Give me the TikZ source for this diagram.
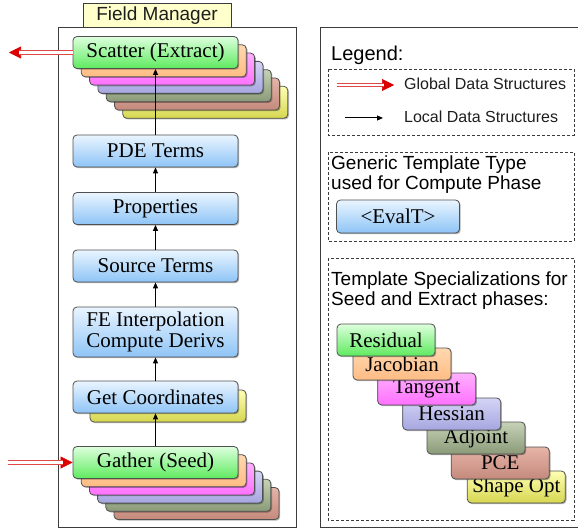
\documentclass[tikz,border=0pt]{standalone}
\usepackage{fontspec}
\setmainfont{Liberation Serif}
\setsansfont{Liberation Sans}
\usetikzlibrary{arrows.meta,shadows}
\definecolor{frameC}{HTML}{3C3C3C}
\definecolor{boxline}{HTML}{505050}
\definecolor{fmfill}{HTML}{FFFFCC}
\definecolor{gred}{HTML}{DD0000}
\definecolor{gredl}{HTML}{E04848}
\definecolor{txtC}{HTML}{1E1E1E}
\definecolor{grT}{HTML}{DDFFDD}\definecolor{grB}{HTML}{5EEA5E}
\definecolor{orT}{HTML}{FFD8B0}\definecolor{orB}{HTML}{FFBC84}
\definecolor{mgT}{HTML}{FFB0FF}\definecolor{mgB}{HTML}{FF70FF}
\definecolor{lvT}{HTML}{D4D4F6}\definecolor{lvB}{HTML}{A6A6E0}
\definecolor{olT}{HTML}{C6D2B6}\definecolor{olB}{HTML}{8A9A78}
\definecolor{rsT}{HTML}{E6B4A8}\definecolor{rsB}{HTML}{C48A7C}
\definecolor{ywT}{HTML}{FFFFB4}\definecolor{ywB}{HTML}{D6D650}
\definecolor{blT}{HTML}{EAF5FF}\definecolor{blB}{HTML}{8EC4F6}
\newcommand\bxfont{\fontsize{21bp}{21.5bp}\selectfont}
\newcommand\lgfont{\sffamily\fontsize{19bp}{20bp}\selectfont}
\begin{document}
\begin{tikzpicture}[x=1bp,y=-1bp,
  fbox/.style={draw=boxline, line width=0.8bp, rounded corners=4bp, inner sep=1bp,
    font=\bxfont, text=black,
    drop shadow={shadow xshift=1.2bp,shadow yshift=-1.2bp,opacity=0.3,fill=black}},
  wide/.style={fbox, minimum width=165bp, minimum height=32bp},
  spec/.style={fbox, minimum width=98bp, minimum height=32bp},
  shade/.style 2 args={top color=#1, bottom color=#2},
  frame/.style={draw=frameC, line width=1bp},
  dbox/.style={draw=frameC, line width=0.8bp, dash pattern=on 3bp off 2bp},
  larrow/.style={draw=black, line width=1bp, -{Triangle[length=6bp,width=5bp]}},
  gtip/.style={draw=gred, line width=0.6bp, -{Triangle[length=12bp,width=12bp]}},
  gline/.style={draw=gredl, line width=1.2bp, double=white, double distance=2.2bp, shorten >=10bp},
]
\useasboundingbox (0,0) rectangle (578,532);

% ---------- left frame ----------
\draw[frame] (58,28) rectangle (296,527);
\node[frame, fill=fmfill, minimum width=148bp, minimum height=24bp, inner sep=0,
  font=\sffamily\fontsize{19bp}{20bp}\selectfont, text=txtC] (fm) at (157,16) {Field Manager};

% ---------- scatter stack ----------
\foreach \i/\c in {6/yw,5/rs,4/ol,3/lv,2/mg,1/or}{
  \node[wide, shade={\c T}{\c B}] (sc\i) at ({155.5+8.3*\i},{52.5+8.3*\i}) {};
}
\node[wide, shade={grT}{grB}] (scatter) at (155.5,52.5) {Scatter (Extract)};

% ---------- blue boxes ----------
\node[wide, shade={blT}{blB}] (pde) at (155.5,151) {PDE Terms};
\node[wide, shade={blT}{blB}] (prop) at (155.5,208.5) {Properties};
\node[wide, shade={blT}{blB}] (src) at (155.5,266) {Source Terms};
\node[wide, shade={blT}{blB}, minimum height=50bp, align=center] (fe) at (155.5,332)
  {FE Interpolation\\Compute Derivs};
\node[wide, shade={ywT}{ywB}, minimum width=156bp] (gcback) at (168,406) {};
\node[wide, shade={blT}{blB}] (gc) at (155.5,397) {Get Coordinates};

% ---------- gather stack ----------
\foreach \i/\c in {5/rs,4/ol,3/lv,2/mg,1/or}{
  \node[wide, shade={\c T}{\c B}] (ga\i) at ({155.5+8.2*\i},{462.5+8.2*\i}) {};
}
\node[wide, shade={grT}{grB}] (gather) at (155.5,462.5) {Gather (Seed)};

% ---------- local arrows ----------
\draw[larrow] (gather.north) -- (gc.south);
\draw[larrow] (gc.north) -- (fe.south);
\draw[larrow] (fe.north) -- (src.south);
\draw[larrow] (src.north) -- (prop.south);
\draw[larrow] (prop.north) -- (pde.south);
\draw[larrow] (pde.north) -- (scatter.south);

% ---------- global arrows ----------
\coordinate (scout) at (9,52.5);
\coordinate (gin) at (8,462.5);
\draw[gtip] (scatter.west) -- (scout);
\draw[gline] (scatter.west) -- (scout);
\draw[gtip] (gin) -- (gather.west);
\draw[gline] (gin) -- (gather.west);

% ---------- right frame ----------
\draw[frame] (580,28) -- (320,28) -- (320,527) -- (580,527);
\node[anchor=west, inner sep=0, font=\sffamily\fontsize{20bp}{21bp}\selectfont, text=black]
  (legend) at (331,55) {Legend:};

\draw[dbox] (328,69) rectangle (574,135);
\coordinate (ga1) at (337,85);
\coordinate (ga2) at (394,85);
\draw[gtip] (ga1) -- (ga2);
\draw[gline] (ga1) -- (ga2);
\node[anchor=west, inner sep=0, font=\sffamily\fontsize{16bp}{17bp}\selectfont, text=txtC]
  (gds) at (404,84) {Global Data Structures};
\coordinate (la1) at (345,118);
\coordinate (la2) at (383,118);
\draw[larrow] (la1) -- (la2);
\node[anchor=west, inner sep=0, font=\sffamily\fontsize{16bp}{17bp}\selectfont, text=txtC]
  (lds) at (404,117) {Local Data Structures};

\draw[dbox] (328,152) rectangle (574,241);
\node[anchor=north west, inner sep=0, align=left, font=\lgfont, text=black]
  (gen) at (331,156) {Generic Template Type\\used for Compute Phase};
\node[fbox, shade={blT}{blB}, minimum width=123bp, minimum height=33bp] (evalt) at (398,216.5) {<EvalT>};

\draw[dbox] (328,258) rectangle (574,520);
\node[anchor=north west, inner sep=0, align=left, font=\lgfont, text=black]
  (tsp) at (331,272) {Template Specializations for\\Seed and Extract phases:};

\node[spec, shade={ywT}{ywB}] (shape) at (516.3,487) {Shape Opt};
\node[spec, shade={rsT}{rsB}] (pce) at (500.3,463) {PCE};
\node[spec, shade={olT}{olB}] (adj) at (476,438) {Adjoint};
\node[spec, shade={lvT}{lvB}] (hes) at (451.7,414) {Hessian};
\node[spec, shade={mgT}{mgB}] (tan) at (426.7,389) {Tangent};
\node[spec, shade={orT}{orB}] (jac) at (402,364) {Jacobian};
\node[spec, shade={grT}{grB}] (res) at (386,340) {Residual};
\end{tikzpicture}
\end{document}
